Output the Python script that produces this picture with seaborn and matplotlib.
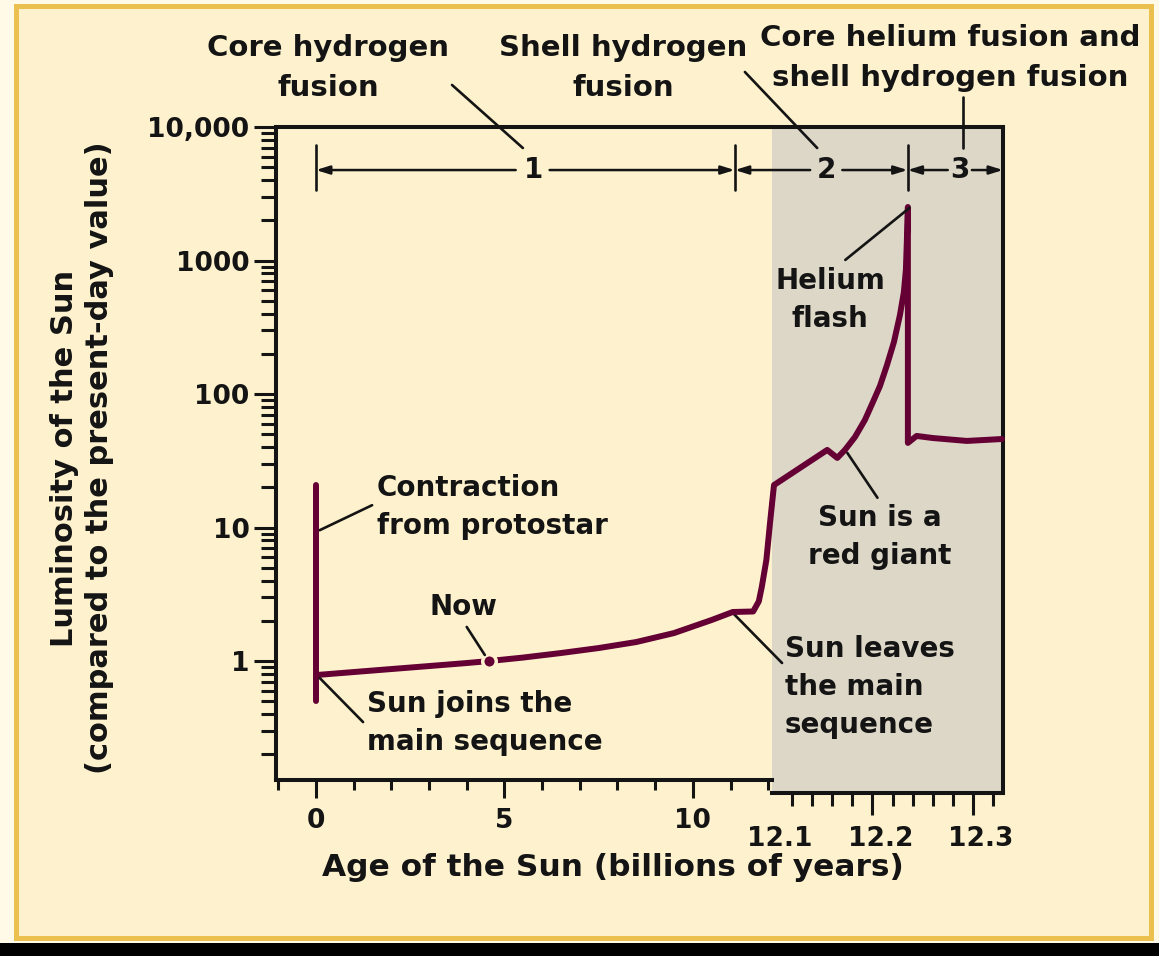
import numpy as np
import matplotlib
matplotlib.use("Agg")
import matplotlib.pyplot as plt
import matplotlib.transforms as mtransforms
from matplotlib.ticker import FixedLocator, MultipleLocator, LogLocator, NullFormatter, NullLocator
from matplotlib.patches import Rectangle
import seaborn as sns

# Datos: edad (miles de millones de años) y luminosidad (L/L_sol)
contraction_age = [0.0, 0.0]
contraction_lum = [21.0, 0.5]

ms_age = [0.0, 1.0, 2.0, 3.0, 4.0, 4.6, 5.5, 6.5, 7.5, 8.5, 9.5, 10.5, 11.06,
          11.6, 11.75, 11.83, 11.95, 12.05, 12.1]
ms_lum = [0.785, 0.827, 0.871, 0.917, 0.966, 1.0, 1.062, 1.148, 1.251, 1.388, 1.62, 2.03, 2.33,
          2.35, 2.8, 3.6, 5.7, 11.0, 15.0]

rg_age = [12.1, 12.102, 12.155, 12.165, 12.1726, 12.1826, 12.1925, 12.2005, 12.2075,
          12.2145, 12.2214, 12.2274, 12.2313, 12.2333, 12.2343, 12.2353, 12.2353,
          12.244, 12.26, 12.294, 12.329]
rg_lum = [15.0, 20.8, 38.1, 33.2, 38.1, 47.6, 63.9, 87.1, 114.8,
          164.9, 245, 390.7, 580.6, 849, 1425, 2516, 43,
          48.5, 46.8, 44.5, 46]

now_age = [4.6]
now_lum = [1.0]

y_ticks = [1, 10, 100, 1000, 10000]
y_ticklabels = ["1", "10", "100", "1000", "10,000"]
x1_ticks = [0, 5, 10]
x2_ticks = [12.1, 12.2, 12.3]
x2_ticklabels = ["12.1", "12.2", "12.3"]

# Colores
CREAM = "#FDF2CD"
GRAY = "#DDD7C7"
CURVE = "#650035"
FRAME = "#EBC04E"
INK = "#141414"

sns.set_style("ticks")
plt.rcParams["font.family"] = ["DejaVu Sans"]
plt.rcParams["font.weight"] = "bold"
plt.rcParams["axes.linewidth"] = 2.9
plt.rcParams["text.color"] = INK
plt.rcParams["axes.edgecolor"] = INK
plt.rcParams["xtick.color"] = INK
plt.rcParams["ytick.color"] = INK

W, H = 1159, 956
fig = plt.figure(figsize=(W / 100, H / 100), dpi=100, facecolor="#FFF9E8")

# Marco de fondo
fig.patches.append(Rectangle((16 / W, 1 - 938 / H), (1151 - 16) / W, (938 - 6) / H,
                             transform=fig.transFigure, facecolor=CREAM,
                             edgecolor=FRAME, linewidth=3.6, zorder=-10))
fig.patches.append(Rectangle((0, 0), 1, 13 / H, transform=fig.transFigure,
                             facecolor="black", edgecolor="none", zorder=-10))

# Dos ejes: escala lineal hasta 12.1 y tramo ampliado 12.1 - 12.33
ax1 = fig.add_axes([276 / W, 1 - 780 / H, (772 - 276) / W, (780 - 127) / H])
ax2 = fig.add_axes([772 / W, 1 - 793 / H, (1003 - 772) / W, (793 - 127) / H])
ax1.patch.set_alpha(0)
ax2.set_facecolor(GRAY)
ax1.set_zorder(2)
ax2.set_zorder(1)

for ax in (ax1, ax2):
    ax.set_yscale("log")

ax1.set_xlim(-1.06, 12.1)
ax1.set_ylim(0.1285, 10000)
ax2.set_xlim(12.1, 12.33)
ax2.set_ylim(0.1026, 10000)

# Curvas
lw = 4.3
sns.lineplot(x=contraction_age, y=contraction_lum, ax=ax1, sort=False, estimator=None,
             color=CURVE, linewidth=lw, zorder=4)
sns.lineplot(x=ms_age, y=ms_lum, ax=ax1, sort=False, estimator=None,
             color=CURVE, linewidth=lw, zorder=4,
             solid_joinstyle="round", solid_capstyle="round")
ax1.lines[-1].set_clip_on(False)
sns.lineplot(x=rg_age, y=rg_lum, ax=ax2, sort=False, estimator=None,
             color=CURVE, linewidth=lw, zorder=4,
             solid_joinstyle="round", solid_capstyle="round")
ax2.lines[-1].set_clip_on(False)
sns.scatterplot(x=now_age, y=now_lum, ax=ax1, s=95, color=CURVE,
                edgecolor=CREAM, linewidth=2.5, zorder=5)

# Ejes y marcas
ax1.spines["right"].set_visible(False)
ax2.spines["left"].set_visible(False)

ax1.yaxis.set_major_locator(FixedLocator(y_ticks))
ax1.set_yticklabels(y_ticklabels)
ax1.yaxis.set_minor_locator(LogLocator(base=10, subs=np.arange(2, 10)))
ax1.yaxis.set_minor_formatter(NullFormatter())
ax1.tick_params(axis="y", which="major", direction="out", length=16, width=2.2,
                labelsize=19, pad=3)
ax1.tick_params(axis="y", which="minor", direction="out", length=11, width=2.2)

ax1.xaxis.set_major_locator(FixedLocator(x1_ticks))
ax1.xaxis.set_minor_locator(MultipleLocator(1))
ax1.tick_params(axis="x", which="major", direction="out", length=13, width=2.2,
                labelsize=19, pad=7)
ax1.tick_params(axis="x", which="minor", direction="out", length=7, width=2.2)

ax2.yaxis.set_major_locator(NullLocator())
ax2.yaxis.set_minor_locator(NullLocator())
ax2.xaxis.set_major_locator(FixedLocator(x2_ticks))
ax2.set_xticklabels(x2_ticklabels)
ax2.xaxis.set_minor_locator(FixedLocator(np.round(np.arange(12.12, 12.33, 0.02), 2)))
ax2.tick_params(axis="x", which="major", direction="out", length=16, width=2.2,
                labelsize=19, pad=8)
ax2.tick_params(axis="x", which="minor", direction="out", length=9, width=2.2)
ax2.xaxis.get_major_ticks()[0].tick1line.set_visible(False)
shift = mtransforms.ScaledTranslation(8 / 100, 0, fig.dpi_scale_trans)
for lab in ax2.get_xticklabels():
    lab.set_transform(lab.get_transform() + shift)

# Textos de ejes
fig.text(613 / W, 1 - 868 / H, "Age of the Sun (billions of years)",
         ha="center", va="center", fontsize=22.5)
fig.text(82 / W, 1 - 458 / H, "Luminosity of the Sun\n(compared to the present-day value)",
         ha="center", va="center", rotation=90, fontsize=22, linespacing=1.3)

# Etiquetas de fases
fs = 20
fig.text(328 / W, 1 - 68 / H, "Core hydrogen\nfusion", ha="center", va="center",
         fontsize=21, linespacing=1.5)
fig.text(623 / W, 1 - 68 / H, "Shell hydrogen\nfusion", ha="center", va="center",
         fontsize=21, linespacing=1.5)
fig.text(950 / W, 1 - 58 / H, "Core helium fusion and\nshell hydrogen fusion",
         ha="center", va="center", fontsize=21, linespacing=1.5)

lk = dict(color=INK, linewidth=1.9, clip_on=False, zorder=6)
ax1.plot([3.61, 5.49], [20650, 6960], **lk)
ax2.plot([12.073, 12.145], [25830, 6960], **lk)
ax2.plot([12.29, 12.29], [16790, 6960], **lk)

# Cotas 1, 2, 3
dim_y = 4760
bar_lo, bar_hi = 3375, 7330
ax1.plot([0, 0], [bar_lo, bar_hi], **lk)
ax1.plot([11.11, 11.11], [bar_lo, bar_hi], **lk)
ax2.plot([12.235, 12.235], [bar_lo, bar_hi], **lk)

ap = dict(arrowstyle="-|>,head_length=0.8,head_width=0.25", color=INK,
          linewidth=1.8, shrinkA=0, shrinkB=0)
segments1 = [(5.3, 0.0), (6.2, 11.11)]
for a, b in segments1:
    ax1.annotate("", xy=(b, dim_y), xytext=(a, dim_y), arrowprops=ap, annotation_clip=False)
segments2 = [(12.138, 12.063), (12.17, 12.235), (12.275, 12.235), (12.299, 12.33)]
for a, b in segments2:
    ax2.annotate("", xy=(b, dim_y), xytext=(a, dim_y), arrowprops=ap, annotation_clip=False)
ax1.text(5.76, dim_y, "1", ha="center", va="center", fontsize=fs)
ax2.text(12.154, dim_y, "2", ha="center", va="center", fontsize=fs)
ax2.text(12.287, dim_y, "3", ha="center", va="center", fontsize=fs)

# Anotaciones de la curva
ax1.text(1.62, 14.3, "Contraction\nfrom protostar", ha="left", va="center",
         fontsize=fs, linespacing=1.45)
ax1.plot([0.1, 1.49], [9.55, 14.7], **lk)

ax1.text(3.9, 2.54, "Now", ha="center", va="center", fontsize=fs)
ax1.plot([4.0, 4.48], [1.80, 1.11], **lk)

ax1.text(1.35, 0.343, "Sun joins the\nmain sequence", ha="left", va="center",
         fontsize=fs, linespacing=1.45)
ax1.plot([0.1, 1.25], [0.746, 0.349], **lk)

ax2.text(12.113, 0.638, "Sun leaves\nthe main\nsequence", ha="left", va="center",
         fontsize=fs, linespacing=1.45)
ax2.plot([12.061, 12.11], [2.29, 0.966], **lk)

ax2.text(12.207, 8.5, "Sun is a\nred giant", ha="center", va="center",
         fontsize=fs, linespacing=1.45)
ax2.plot([12.175, 12.205], [36.2, 16.7], **lk)

ax2.text(12.158, 506, "Helium\nflash", ha="center", va="center",
         fontsize=fs, linespacing=1.45)
ax2.plot([12.237, 12.173], [2481, 1010], **lk)

fig.savefig("out.png", dpi=100, facecolor=fig.get_facecolor())
